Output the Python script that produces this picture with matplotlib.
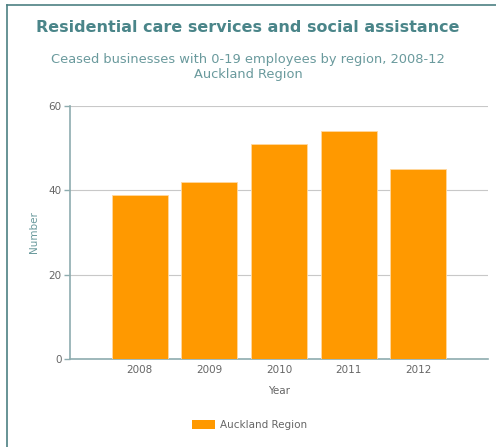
import numpy as np
import matplotlib.pyplot as plt
from matplotlib.lines import Line2D
from matplotlib.patches import Patch

years = ["2008", "2009", "2010", "2011", "2012"]
ceased = [39, 42, 51, 54, 45]
series_name = "Auckland Region"

title = "Residential care services and social assistance"
subtitle = "Ceased businesses with 0-19 employees by region, 2008-12\nAuckland Region"

bar_color = "#ff9900"
axis_color = "#8eacaf"
text_color = "#666666"
title_color = "#4a8589"
sub_color = "#6a9a9d"

fig = plt.figure(figsize=(4.96, 4.47), dpi=100)
ax = fig.add_axes([70 / 496, 1 - 359 / 447, 418 / 496, 253 / 447])

x = np.arange(len(years))
ax.bar(x, ceased, width=0.8, color=bar_color, edgecolor="#ffd9a0", linewidth=0.6, zorder=3)

ax.set_xlim(-1, 5)
ax.set_ylim(0, 60)
ax.set_xticks(x)
ax.set_xticklabels(years)
ax.set_yticks([0, 20, 40, 60])
ax.grid(axis="y", color="#c8c8c8", linewidth=0.8, zorder=0)

for side in ["top", "right"]:
    ax.spines[side].set_visible(False)
for side in ["left", "bottom"]:
    ax.spines[side].set_color(axis_color)
    ax.spines[side].set_linewidth(1.2)

ax.tick_params(axis="x", length=0, pad=4, labelsize=7.5, labelcolor=text_color)
ax.tick_params(axis="y", length=4, width=1, color=axis_color, pad=2,
               labelsize=7.5, labelcolor=text_color)

ax.set_xlabel("Year", fontsize=7.5, color=text_color, labelpad=8)
ax.set_ylabel("Number", fontsize=7.5, color=sub_color, labelpad=7)

fig.text(0.5, 1 - 27 / 447, title, ha="center", va="center",
         fontsize=11.5, fontweight="bold", color=title_color)
fig.text(0.5, 1 - 67 / 447, subtitle, ha="center", va="center",
         fontsize=9.4, color=sub_color, linespacing=1.15)

# frame round the chart (top and left visible in the reference)
fig.add_artist(Line2D([7 / 496, 7 / 496], [0, 1 - 5 / 447], transform=fig.transFigure,
                      color="#4d8083", linewidth=1.2))
fig.add_artist(Line2D([7 / 496, 1], [1 - 5 / 447, 1 - 5 / 447], transform=fig.transFigure,
                      color="#4d8083", linewidth=1.2))

handles = [Patch(facecolor=bar_color, edgecolor="none", label=series_name)]
fig.legend(handles=handles, loc="center", bbox_to_anchor=(250 / 496, 1 - 425 / 447),
           frameon=False, fontsize=7.5, labelcolor=text_color,
           handlelength=2.2, handleheight=1.0, handletextpad=0.5)

fig.savefig("out.png", dpi=100)
